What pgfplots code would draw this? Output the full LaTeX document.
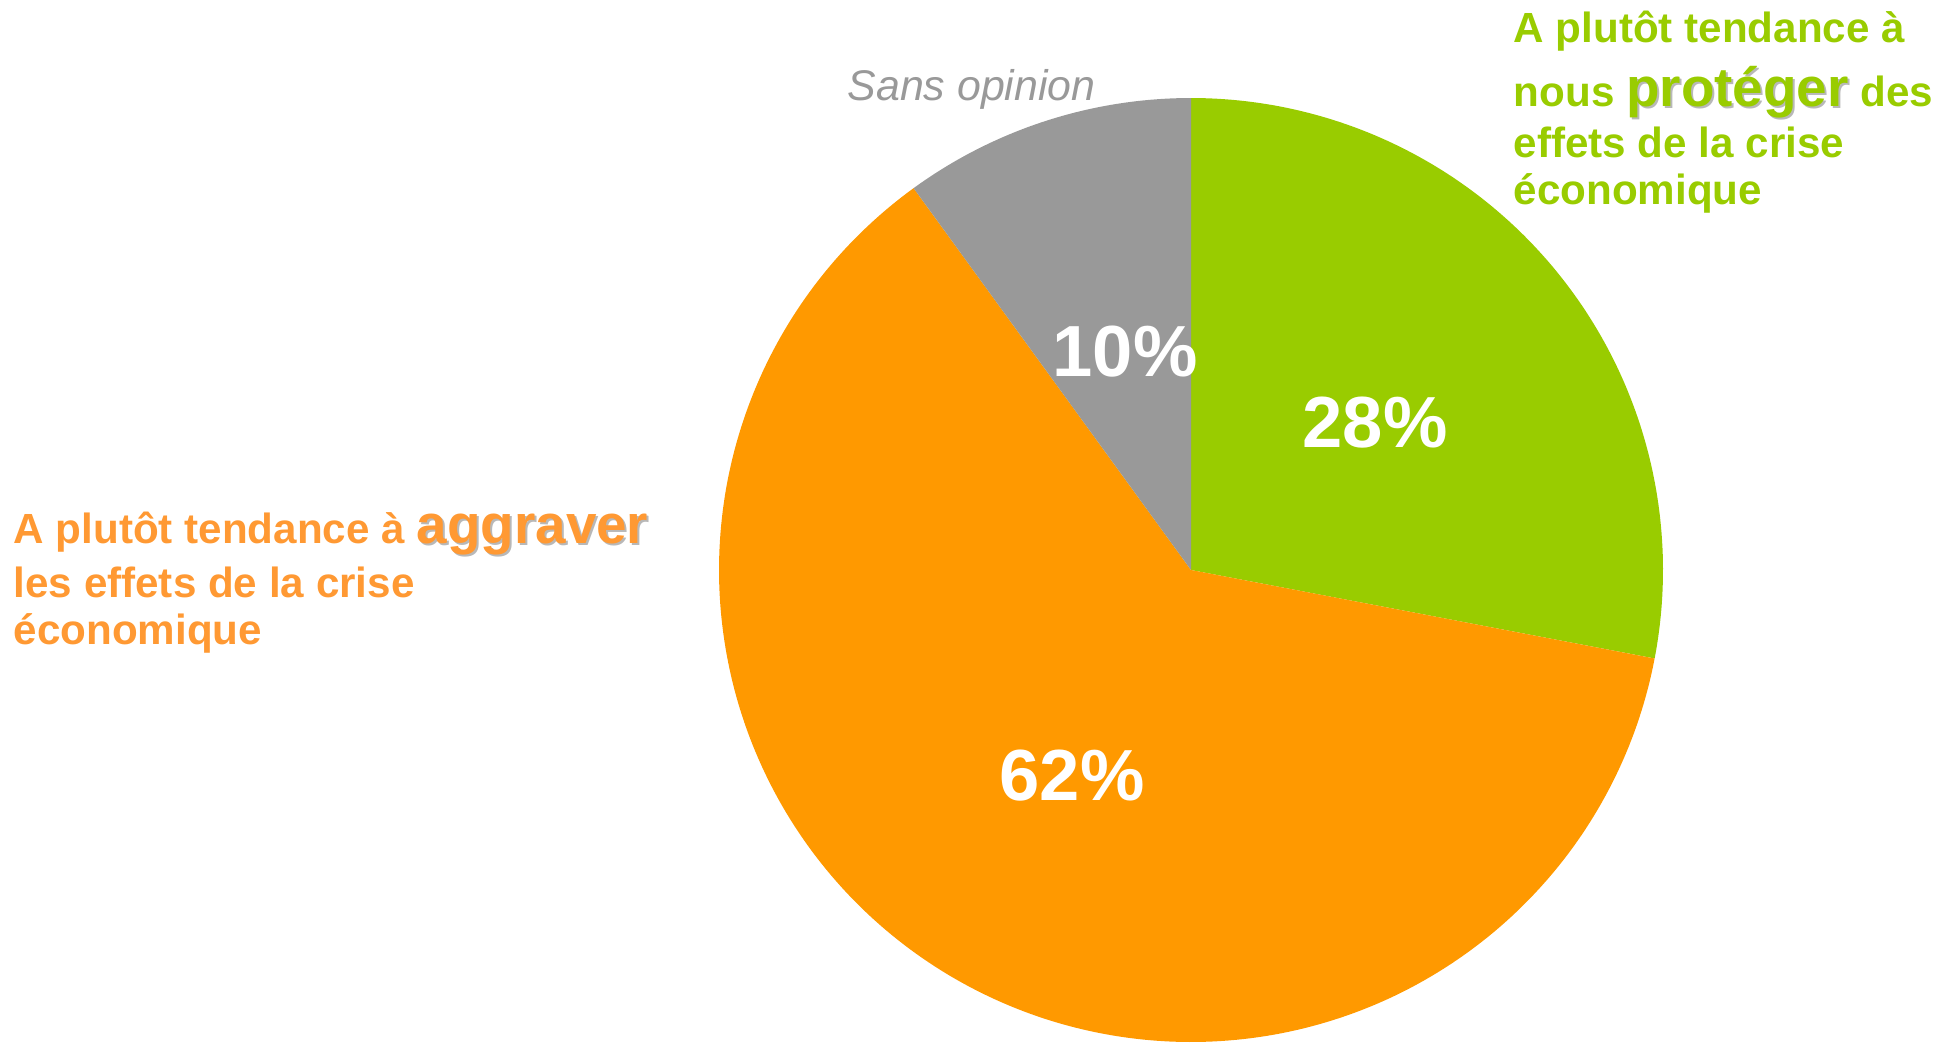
\documentclass[border=0pt]{standalone}
\usepackage{pgfplots}
\pgfplotsset{compat=1.18}
\usepackage{fontspec}
\setmainfont{Liberation Sans}
\definecolor{cgreen}{HTML}{99CC00}
\definecolor{corange}{HTML}{FF9900}
\definecolor{cgrey}{HTML}{999999}
\definecolor{tgreen}{HTML}{99CC00}
\definecolor{torange}{HTML}{FF9933}
\definecolor{tgrey}{HTML}{999999}
\newcommand{\shadowed}[2]{\rlap{\raisebox{-0.2mm}{\kern0.2mm\textcolor{black!28}{#2}}}\textcolor{#1}{#2}}
% shares in percent
\def\pGreen{28}\def\pOrange{62}\def\pGrey{10}
\def\cx{1191}\def\cy{474}\def\R{472}
\begin{document}
\begin{tikzpicture}
\pgfmathsetmacro{\aA}{90}
\pgfmathsetmacro{\aB}{90-3.6*\pGreen}
\pgfmathsetmacro{\aC}{\aB-3.6*\pOrange}
\pgfmathsetmacro{\aD}{\aC-3.6*\pGrey}
\begin{axis}[
  scale only axis, width=194.6mm, height=104.4mm,
  xmin=0, xmax=1946, ymin=0, ymax=1044,
  hide axis, clip=false,
]
\coordinate (ll) at (axis cs:0,0);
\coordinate (ur) at (axis cs:1946,1044);
\addplot[fill=cgreen, draw=none, domain=\aB:\aA, samples=120, variable=\t]
  ({\cx+\R*cos(t)},{\cy+\R*sin(t)}) -- (axis cs:\cx,\cy) -- cycle;
\addplot[fill=corange, draw=none, domain=\aC:\aB, samples=240, variable=\t]
  ({\cx+\R*cos(t)},{\cy+\R*sin(t)}) -- (axis cs:\cx,\cy) -- cycle;
\addplot[fill=cgrey, draw=none, domain=\aD:\aC, samples=60, variable=\t]
  ({\cx+\R*cos(t)},{\cy+\R*sin(t)}) -- (axis cs:\cx,\cy) -- cycle;

% percentage labels
\begin{scope}[every node/.style={inner sep=0pt, text=white, font=\fontsize{20.6}{24}\selectfont\bfseries}]
\node at (axis cs:1125,692) {\pGrey\%};
\node at (axis cs:1375,621) {\pGreen\%};
\node at (axis cs:1072,268) {\pOrange\%};
\end{scope}

% green label
\begin{scope}[every node/.style={inner sep=0pt, anchor=base west, text=tgreen, font=\fontsize{12}{14}\selectfont\bfseries}]
\node at (axis cs:1513,1001) {A plutôt tendance à};
\node at (axis cs:1513,937) {nous {\fontsize{15.6}{18}\selectfont\shadowed{tgreen}{protéger}} des};
\node at (axis cs:1513,887) {effets de la crise};
\node at (axis cs:1513,839) {économique};
\end{scope}

% orange label
\begin{scope}[every node/.style={inner sep=0pt, anchor=base west, text=torange, font=\fontsize{12}{14}\selectfont\bfseries}]
\node at (axis cs:13,501) {A plutôt tendance à {\fontsize{15.6}{18}\selectfont\shadowed{torange}{aggraver}}};
\node at (axis cs:13,447) {les effets de la crise};
\node at (axis cs:13,400) {économique};
\end{scope}

\node[inner sep=0pt, anchor=base west, text=tgrey, font=\fontsize{12.2}{14}\selectfont\itshape] at (axis cs:847,943) {Sans opinion};
\end{axis}
\pgfresetboundingbox
\path[use as bounding box] (ll) rectangle (ur);
\end{tikzpicture}
\end{document}
